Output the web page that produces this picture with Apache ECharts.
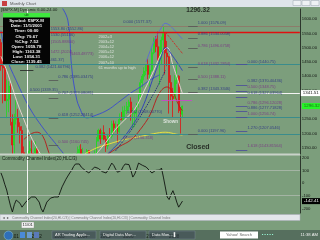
<!DOCTYPE html>
<html><head><meta charset="utf-8">
<script src="https://cdn.jsdelivr.net/npm/echarts/dist/echarts.min.js"></script>
<style>html,body{margin:0;padding:0;background:#7c9e7c;overflow:hidden}#c{width:320px;height:240px}</style>
</head><body><div id="c"></div>
<script>
// ---- categories: months Sep 2000 .. (axis extends to the right of the data)
const categories = [];
for (let i = 0; i < 157; i++) { const t = 8 + i; categories.push((2000 + Math.floor(t / 12)) + '-' + String(t % 12 + 1).padStart(2, '0')); }

// ---- monthly OHLC, S&P 500 ($SPX.M) Sep 2000 .. Aug 2008 : [open, high, low, close]
const ohlc = [
[1517.68,1530.09,1419.44,1436.51],[1436.52,1454.82,1305.79,1429.40],[1429.40,1438.46,1316.22,1314.95],[1314.95,1389.06,1254.07,1320.28],
[1320.28,1383.37,1274.62,1366.01],[1366.01,1376.38,1228.33,1239.94],[1239.94,1267.42,1081.19,1160.33],[1160.33,1269.30,1091.99,1249.46],
[1249.46,1315.93,1232.00,1255.82],[1255.82,1286.62,1203.03,1224.42],[1224.42,1239.78,1165.54,1211.23],[1211.23,1226.27,1124.87,1133.58],
[1133.58,1155.40,944.75,1040.94],[1040.94,1110.61,1026.76,1059.78],[1059.78,1163.38,1054.31,1139.45],[1139.45,1173.62,1114.51,1148.08],
[1148.08,1176.55,1081.66,1130.20],[1130.20,1130.20,1074.36,1106.73],[1106.73,1173.03,1106.73,1147.39],[1147.39,1147.84,1063.46,1076.92],
[1076.92,1106.59,1048.96,1067.14],[1067.14,1070.74,952.92,989.82],[989.82,994.46,775.68,911.62],[911.62,965.00,833.44,916.07],
[916.07,924.02,800.20,815.28],[815.28,900.07,768.63,885.76],[885.76,941.82,872.05,936.31],[936.31,954.28,869.45,879.82],
[879.82,935.05,840.34,855.70],[855.70,864.64,806.29,841.15],[841.15,895.90,788.90,848.18],[848.18,924.24,847.85,916.92],
[916.92,965.38,902.83,963.59],[963.59,1015.33,963.59,974.50],[974.50,1015.41,962.10,990.31],[990.31,1011.01,960.84,1008.01],
[1008.01,1040.29,990.36,995.97],[995.97,1053.79,995.97,1050.71],[1050.71,1063.65,1031.20,1058.20],[1058.20,1112.56,1058.20,1111.92],
[1111.92,1155.38,1105.08,1131.13],[1131.13,1158.98,1124.44,1144.94],[1144.94,1163.23,1087.16,1126.21],[1126.21,1150.57,1107.23,1107.30],
[1107.30,1127.74,1076.32,1120.68],[1120.68,1146.34,1113.32,1140.84],[1140.84,1140.84,1078.78,1101.72],[1101.72,1108.60,1060.72,1104.24],
[1104.24,1131.54,1099.18,1114.58],[1114.58,1142.05,1090.19,1130.20],[1130.20,1188.46,1127.60,1173.82],[1173.82,1217.33,1173.76,1211.92],
[1211.92,1217.80,1163.75,1181.27],[1181.27,1212.44,1180.95,1203.60],[1203.60,1229.11,1176.92,1180.59],[1180.59,1191.88,1136.15,1156.85],
[1156.85,1199.56,1146.18,1191.50],[1191.50,1219.59,1188.30,1191.33],[1191.33,1245.15,1183.55,1234.18],[1234.18,1245.86,1201.07,1220.33],
[1220.33,1243.13,1205.35,1228.81],[1228.81,1233.34,1168.20,1207.01],[1207.01,1270.64,1201.07,1249.48],[1249.48,1275.80,1246.59,1248.29],
[1248.29,1294.90,1245.74,1280.08],[1280.08,1297.57,1253.61,1280.66],[1280.66,1310.88,1268.42,1294.83],[1294.83,1318.16,1280.74,1310.61],
[1310.61,1326.70,1245.34,1270.09],[1270.09,1290.68,1219.29,1270.20],[1270.20,1280.42,1224.54,1276.66],[1276.66,1307.11,1253.85,1303.82],
[1303.82,1340.28,1290.93,1335.85],[1335.85,1389.45,1327.10,1377.94],[1377.94,1407.89,1360.98,1400.63],[1400.63,1431.81,1385.93,1418.30],
[1418.30,1441.61,1403.97,1438.24],[1438.24,1461.57,1389.42,1406.82],[1406.82,1438.89,1363.98,1420.86],[1420.86,1498.02,1416.37,1482.37],
[1482.37,1535.56,1476.70,1530.62],[1530.62,1540.56,1484.18,1503.35],[1503.35,1555.90,1454.25,1455.27],[1455.27,1503.89,1370.60,1473.99],
[1473.99,1538.74,1439.29,1526.75],[1526.75,1576.09,1489.56,1549.38],[1549.38,1552.76,1406.10,1481.14],[1481.14,1523.57,1435.65,1468.36],
[1468.36,1471.77,1270.05,1378.55],[1378.55,1404.05,1317.52,1330.63],[1330.63,1359.68,1256.98,1322.70],[1322.70,1404.57,1324.35,1385.59],
[1385.59,1440.24,1373.07,1400.38],[1400.38,1404.05,1272.00,1280.00],[1280.00,1292.66,1200.44,1267.38],[1267.38,1297.85,1254.27,1296.32]
];

// ---- CCI(20, HLC/3), one value per month
const cci = [80,40,-10,-55,-120,-180,-228,-170,-134,-140,-160,-190,-200,-150,-134,-120,-110,-105,-110,-110,-150,-200,-228,-190,
-150,-160,-118,-115,-110,-120,-110,-70,-30,0,30,55,79,100,130,150,157,150,126,126,100,85,79,95,110,126,126,115,100,90,85,79,
100,130,157,140,110,85,79,100,130,150,157,145,100,47,70,110,157,150,140,130,126,110,95,79,90,100,110,102,118,47,-31,-110,
-130,-90,-60,-100,-150,-190,-200,-142.41];

// ---- overlay study lines [monthIndex, price]
const yellowLine = [[44,1130],[50,1150],[57,1165],[65,1180],[73,1190],[80,1200],[86,1205],[92,1198],[95,1195]];
const blueMid = [[31,1650],[35,1596],[37,1433],[39,1342],[41,1293],[45,1255],[50,1265],[56,1283],[61,1307],[68,1342],[73,1363],[78,1387],[83,1405]];
const blueLeft = [[0,1560],[3,1465],[8,1385],[15,1290],[22,1220],[28,1170],[34,1120]];
const redLeft = [[12,1180],[16,1200],[19,1205],[22,1190],[25,1135],[27,1100]];
const redRight = [[55,1125],[57,1133],[62,1155],[68,1178],[73,1215],[78,1265],[83,1342],[87,1363],[90,1345],[93,1300],[95,1280]];
const paleLeft = [[0,1470],[3,1420],[6,1360],[9,1300],[12,1250],[15,1200],[18,1160],[21,1125]];
const paleRight = [[50,1130],[55,1170],[60,1215],[65,1250],[70,1285],[75,1350],[80,1420],[84,1480],[87,1500],[90,1440],[93,1380],[95,1340]];
const blueRight = [[56,1130],[62,1170],[68,1220],[74,1290],[80,1400],[84,1470],[86,1500],[90,1470],[95,1420]];
const blueUpper = [[76,1450],[80,1520],[84,1570],[86,1585],[88,1580],[91,1560],[95,1530]];
const redDots = [[86,1555],[95,1480]];
const navyDots = [[60,1140],[70,1230],[80,1340],[86,1420]];

// ---- level lines [price, colour, width]
const levelLines = [[1576.09,'#8c7c6a',1],[1552.86,'#e01010',1.4],[1440.75,'#3a8c8c',1],[1256.74,'#3a8c8c',1],[1197.96,'#3a8c8c',1]];

// ---- text annotations [monthIndex, price, text, colour]
const NAVY = '#262a86', PURP = '#7a2a86';
const fibLabels = [
[64,1589,'0.000 (1577.37)',NAVY],[26,1565,'1553.80 (1552.86)',NAVY],[26,1544,'1530.(55136)',NAVY],[26,1520,'(1505.88800)',PURP],
[26,1485,'1472.(2024)',PURP],[36,1478,'(1463.48773)',PURP],[24,1457,'(1461.37)',NAVY],
[51,1537,'2002=3','#f0f0f0'],[51,1520,'2003=12','#f0f0f0'],[51,1502,'2004=12','#f0f0f0'],[51,1485,'2005=12','#f0f0f0'],
[51,1467,'2006=12','#f0f0f0'],[51,1446,'2007=10','#f0f0f0'],[51,1429,'61 months up to high','#f0f0f0'],
[18,1432,'0.382 (1421.60796)',NAVY],[30,1398,'0.786 (1385.03475)',NAVY],[15,1352,'0.500 (1339.35)',NAVY],
[30,1342,'0.707 (1323.08081)',NAVY],[30,1265,'0.618 (1252.28414)',NAVY],[66,1276,'0.382 (1268.00770)',NAVY],
[30,1171,'0.500 (1160.745)',PURP],[64,1185,'0.000 (1136.418)',PURP],
[103,1586,'1.000 (1576.09)',NAVY],[103,1548,'0.886 (1534.0058)',NAVY],[103,1506,'0.786 (1496.6758)',PURP],
[103,1443,'0.618 (1432.2854)',PURP],[103,1398,'0.500 (1388.11)',PURP],[103,1356,'0.382 (1343.3346)',NAVY],[103,1209,'0.000 (1197.96)',NAVY],
[129,1452,'0.000 (1440.75)',NAVY],[129,1384,'0.382 (1370.40436)',NAVY],[129,1364,'0.500 (1348.75)',PURP],
[129,1341,'0.618 (1327.03964)',NAVY],[129,1308,'0.786 (1296.12028)',PURP],[129,1289,'0.886 (1277.71828)',NAVY],
[129,1269,'1.000 (1256.74)',PURP],[129,1219,'1.270 (1207.0546)',NAVY],[129,1157,'1.618 (1143.81564)',PURP]
];
const fibSegments = [
[98,103,1576.09,'#555'],[98,103,1534.01,'#555'],[98,103,1496.68,'#555'],[98,103,1432.29,'#555'],[98,103,1388.11,'#555'],
[98,103,1343.33,'#555'],[98,103,1197.96,'#555'],
[123,129,1440.75,'#4a4a9a'],[123,129,1370.40,'#4a4a9a'],[123,129,1348.75,'#4a4a9a'],[123,129,1327.04,'#4a4a9a'],
[123,129,1296.12,'#4a4a9a'],[123,129,1277.72,'#4a4a9a'],[123,129,1256.74,'#4a4a9a'],[123,129,1207.05,'#4a4a9a'],[123,129,1143.82,'#4a4a9a'],
[10,17,1421.61,'#222'],[25,30,1385.03,'#555'],[25,30,1323.08,'#555'],[25,30,1252.28,'#555'],[25,30,1160.75,'#555'],[84,100,1317.5,'#d040d0']
];
const bigTexts = [[97,1631,'1296.32','#111',6.5],[97,1153,'Closed','#111',7],[85,1241,'Shown','#f4f4f4',4.5]];

const crossMonth = 14, crossPrice = 1341.51, lastPrice = 1296.32, lastCci = -142.41;
const priceTicks = [1150,1200,1250,1300,1350,1400,1450,1500,1550,1600];
const cciTicks = [200,100,0,-100,-200];
const PMIN = 1129, PMAX = 1635;

const FONT = 'Liberation Sans';
const chart = echarts.init(document.getElementById('c'));
const lineS = (data, color, width, type) => ({type:'line', xAxisIndex:0, yAxisIndex:0, data, symbol:'none', smooth:0.4, silent:true,
  clip:true, lineStyle:{color, width, type: type || 'solid'}, z:3});
// candles are limited to the visible price window of the upper panel (the panel cuts them off)
const inWin = v => Math.min(PMAX, Math.max(PMIN, v));
const HIDE = 'rgba(0,0,0,0)';

chart.setOption({
  animation:false,
  backgroundColor:'#7c9e7c',
  grid:[{left:0, right:20, top:9, height:145},{left:0, right:20, top:156, height:57}],
  xAxis:[
    {type:'category', gridIndex:0, data:categories, axisLine:{show:false}, axisTick:{show:false}, axisLabel:{show:false}, splitLine:{show:false}},
    {type:'category', gridIndex:1, data:categories, axisLine:{show:false}, axisTick:{show:false}, splitLine:{show:false},
     axisLabel:{show:true, margin:21, align:'left', fontSize:4.6, fontFamily:FONT, color:'#10160f',
       interval:(i, v) => v.endsWith('-01') && +v.slice(0,4) <= 2008, formatter:v => v.slice(0,4)}}
  ],
  yAxis:[
    {type:'value', gridIndex:0, position:'right', min:PMIN, max:PMAX, splitLine:{show:false}, axisTick:{show:false},
     axisLine:{show:true, lineStyle:{color:'#2c362c', width:1}},
     axisLabel:{customValues:priceTicks, formatter:v => v.toFixed(2), fontSize:4.2, fontFamily:FONT, color:'#141814', margin:2}},
    {type:'value', gridIndex:1, position:'right', min:-236, max:213, splitLine:{show:false}, axisTick:{show:false},
     axisLine:{show:true, lineStyle:{color:'#2c362c', width:1}},
     axisLabel:{customValues:cciTicks, fontSize:4.2, fontFamily:FONT, color:'#141814', margin:2}}
  ],
  series:[
    {type:'candlestick', xAxisIndex:0, yAxisIndex:0, clip:true, barWidth:'72%',
     data: ohlc.map(r => [inWin(r[0]), inWin(r[3]), inWin(r[2]), inWin(r[1])]),
     itemStyle:{color:'#22d822', color0:'#e01414', borderColor:'#22d822', borderColor0:'#e01414', borderWidth:0.8},
     markLine:{silent:true, symbol:'none', animation:false,
       data:[
         ...levelLines.map(l => ({yAxis:l[0], lineStyle:{color:l[1], width:l[2], type:'solid'}, label:{show:false}})),
         {yAxis:crossPrice, lineStyle:{color:'#f4f4f4', width:1, type:'solid'},
          label:{show:true, position:'end', distance:1, formatter:crossPrice.toFixed(2), backgroundColor:'#ffffff', color:'#111',
                 fontSize:4.4, fontFamily:FONT, padding:[1,2,1,2]}},
         {yAxis:lastPrice, lineStyle:{color:HIDE, width:0.1},
          label:{show:true, position:'end', distance:2, formatter:lastPrice.toFixed(2), backgroundColor:'#27f527', color:'#1a6a1a',
                 fontSize:4.4, fontFamily:FONT, padding:[1,2,1,2]}},
         {xAxis:crossMonth, lineStyle:{color:'#f4f4f4', width:1, type:'solid'}, label:{show:false}}
       ]}},
    lineS(yellowLine,'#e8e040',1),
    lineS(blueMid,'#3a4ad0',0.9),
    lineS(blueLeft,'#3a4ad0',0.9),
    lineS(redLeft,'#b81818',0.9),
    lineS(redRight,'#b81818',0.9),
    lineS(paleLeft,'#f0d8d8',0.9),
    lineS(paleRight,'#f0d8d8',0.9),
    lineS(blueRight,'#2a3ac0',0.9),
    lineS(blueUpper,'#5a6ad8',0.9),
    lineS(redDots,'#e01010',1,'dotted'),
    lineS(navyDots,'#1a1a80',1,'dotted'),
    {type:'scatter', xAxisIndex:0, yAxisIndex:0, symbolSize:0.1, silent:true, z:5, clip:false,
     itemStyle:{color:HIDE},
     data:[
       ...fibLabels.map(r => ({value:[r[0], r[1]], label:{formatter:r[2], color:r[3], fontSize:4}})),
       ...bigTexts.map(r => ({value:[r[0], r[1]], label:{formatter:r[2], color:r[3], fontSize:r[4], fontWeight:'bold'}}))
     ],
     label:{show:true, position:'right', distance:0, fontFamily:FONT},
     markLine:{silent:true, symbol:'none', label:{show:false},
       data: fibSegments.map(s => [{coord:[s[0], s[2]], lineStyle:{color:s[3], width:0.8, type:'solid'}}, {coord:[s[1], s[2]]}])}},
    {type:'line', xAxisIndex:1, yAxisIndex:1, data:cci, symbol:'none', silent:true, lineStyle:{color:'#101410', width:0.9},
     markLine:{silent:true, symbol:'none',
       data:[
         {yAxis:100, lineStyle:{color:'#a4b4a4', width:1, type:'solid'}, label:{show:false}},
         {yAxis:-100, lineStyle:{color:'#a4b4a4', width:1, type:'solid'}, label:{show:false}},
         {xAxis:crossMonth, lineStyle:{color:'#f4f4f4', width:1, type:'solid'}, label:{show:false}},
         {yAxis:lastCci, lineStyle:{color:HIDE, width:0.1},
          label:{show:true, position:'end', distance:2, formatter:lastCci.toFixed(2), backgroundColor:'#000', color:'#fff',
                 fontSize:4.4, fontFamily:FONT, padding:[1,2,1,2]}}
       ]}}
  ],
  graphic:[
    // window title bar
    {type:'rect', shape:{x:0,y:0,width:320,height:7}, style:{fill:'#dfe5ea'}, z:100},
    {type:'rect', shape:{x:2,y:1,width:5,height:5}, style:{fill:'#c84040'}, z:101},
    {type:'text', x:10, y:3.5, style:{text:'Monthly Chart', fontSize:4.2, fontFamily:FONT, fill:'#555', verticalAlign:'middle'}, z:101},
    {type:'rect', shape:{x:293,y:0.5,width:8,height:5}, style:{fill:'#eef1f4', stroke:'#9aa4ae', lineWidth:0.5}, z:101},
    {type:'rect', shape:{x:302,y:0.5,width:8,height:5}, style:{fill:'#eef1f4', stroke:'#9aa4ae', lineWidth:0.5}, z:101},
    {type:'rect', shape:{x:311,y:0.5,width:8,height:5}, style:{fill:'#eef1f4', stroke:'#9aa4ae', lineWidth:0.5}, z:101},
    {type:'text', x:1, y:9.5, style:{text:'[$SPX.M] Dynamic 6.00-24.00', fontSize:4.2, fontFamily:FONT, fill:'#1a221a', verticalAlign:'middle'}, z:101},
    // data window
    {type:'rect', shape:{x:3,y:13,width:47,height:51}, style:{fill:'#050505'}, z:100},
    {type:'rect', shape:{x:3,y:13,width:47,height:4.5}, style:{fill:'#3ee83e'}, z:101},
    {type:'text', x:26.5, y:15.3, style:{text:'ub', fontSize:3.6, fontFamily:FONT, fill:'#113311', align:'center', verticalAlign:'middle'}, z:102},
    ...['Symbol: $SPX.M','Date: 11/1/2001','Time: 00:00','Chg: 79.67','%Chg: 7.52','Open: 1059.78','High: 1163.38','Low: 1054.31','Close: 1139.45']
      .map((t,k) => ({type:'text', x:26.5, y:21 + k*5.1, style:{text:t, fontSize:4.4, fontWeight:'bold', fontFamily:FONT, fill:'#f2f2f2', align:'center', verticalAlign:'middle'}, z:102})),
    // panel separator and study title
    {type:'rect', shape:{x:0,y:153.6,width:300,height:2}, style:{fill:'#c9d2c9'}, z:100},
    {type:'text', x:2, y:158.5, style:{text:'Commodity Channel Index(20,HLC/3)', fontSize:4.5, fontFamily:FONT, fill:'#1a221a', verticalAlign:'middle'}, z:101},
    // scrollbar / tabs
    {type:'rect', shape:{x:0,y:214.5,width:300,height:6}, style:{fill:'#e3e7ea', stroke:'#aab', lineWidth:0.5}, z:100},
    {type:'text', x:12, y:217.6, style:{text:'Commodity Channel Index(20,HLC/3) | Commodity Channel Index(20,HLC/3) | Commodity Channel Index', fontSize:3.4, fontFamily:FONT, fill:'#777', verticalAlign:'middle'}, z:101},
    {type:'text', x:2, y:217.6, style:{text:'◄ ►', fontSize:3.4, fontFamily:FONT, fill:'#555', verticalAlign:'middle'}, z:101},
    {type:'rect', shape:{x:21.5,y:222,width:12.5,height:6}, style:{fill:'#f4f4f4', stroke:'#888', lineWidth:0.4}, z:100},
    {type:'text', x:27.7, y:225, style:{text:'11/01', fontSize:4.2, fontFamily:FONT, fill:'#222', align:'center', verticalAlign:'middle'}, z:101},
    // taskbar (translucent glass)
    {type:'rect', shape:{x:0,y:230,width:320,height:10}, style:{fill:'rgba(24,34,44,0.38)'}, z:-1, silent:true},
    {type:'circle', shape:{cx:8.5,cy:235.5,r:4.5}, style:{fill:'#2f6fb8', stroke:'#9cc', lineWidth:0.5}, z:100},
    {type:'rect', shape:{x:20,y:232,width:5,height:6}, style:{fill:'#4a8ad8'}, z:100},
    {type:'rect', shape:{x:27,y:232,width:5,height:6}, style:{fill:'#6a9ad0'}, z:100},
    {type:'rect', shape:{x:34,y:232,width:5,height:6}, style:{fill:'#5a7ab8'}, z:100},
    {type:'rect', shape:{x:52,y:231,width:44,height:8}, style:{fill:'rgba(60,70,85,0.5)', stroke:'#8090a0', lineWidth:0.4}, z:1},
    {type:'text', x:55, y:235, style:{text:'AR Trading Applic...', fontSize:4, fontFamily:FONT, fill:'#f0f0f0', verticalAlign:'middle'}, z:101},
    {type:'rect', shape:{x:100,y:231,width:46,height:8}, style:{fill:'rgba(60,70,85,0.5)', stroke:'#8090a0', lineWidth:0.4}, z:1},
    {type:'text', x:103, y:235, style:{text:'Digital Data Mon...', fontSize:4, fontFamily:FONT, fill:'#f0f0f0', verticalAlign:'middle'}, z:101},
    {type:'rect', shape:{x:149,y:231,width:46,height:8}, style:{fill:'rgba(60,70,85,0.5)', stroke:'#8090a0', lineWidth:0.4}, z:1},
    {type:'text', x:152, y:235, style:{text:'Data Mon... ▌', fontSize:4, fontFamily:FONT, fill:'#f0f0f0', verticalAlign:'middle'}, z:101},
    {type:'rect', shape:{x:220,y:231.5,width:38,height:7}, style:{fill:'#ffffff'}, z:100},
    {type:'text', x:239, y:235, style:{text:'Yahoo! Search', fontSize:4, fontFamily:FONT, fill:'#666', align:'center', verticalAlign:'middle'}, z:101},
    {type:'text', x:262, y:235, style:{text:'▪ ▪ ▪ ▪ ▪', fontSize:4, fontFamily:FONT, fill:'#9fd', verticalAlign:'middle'}, z:101},
    {type:'text', x:318, y:235, style:{text:'11:38 AM', fontSize:4.2, fontFamily:FONT, fill:'#f0f0f0', align:'right', verticalAlign:'middle'}, z:101}
  ]
});
</script></body></html>
